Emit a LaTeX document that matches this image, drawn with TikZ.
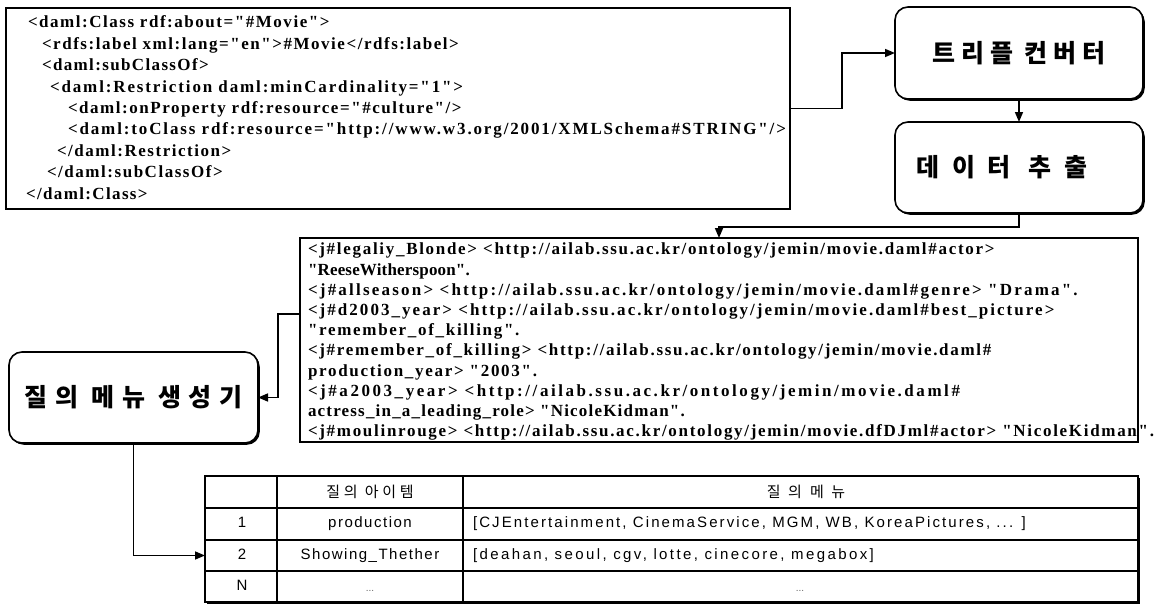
\documentclass[tikz,border=0pt]{standalone}
\usepackage{fontspec}
\setmainfont{Liberation Serif}[Ligatures=TeXOff]
\newfontfamily\krfont{Noto Sans CJK KR}
\newfontfamily\sansfont{Liberation Sans}
\usetikzlibrary{arrows.meta,shadows}
\newcommand\lsp[2]{{\addfontfeature{LetterSpace=#1}#2}}
\begin{document}
\begin{tikzpicture}[x=1pt,y=-1pt,
  every node/.style={inner sep=0pt, outer sep=0pt},
  box/.style={draw, line width=1.4pt, fill=white},
  rbox/.style={draw, line width=1.6pt, fill=white, rounded corners=13pt,
     drop shadow={shadow xshift=1.8pt, shadow yshift=-1.8pt, fill=black, opacity=1}},
  arr/.style={line width=1.6pt, -{Triangle[length=10pt,width=8pt]}},
  code/.style={anchor=north west, align=left, font=\bfseries\fontsize{17}{21.4}\selectfont},
  trip/.style={anchor=north west, align=left, font=\bfseries\fontsize{17}{20.2}\selectfont},
  kr/.style={font=\krfont\bfseries\fontsize{25}{28}\selectfont\addfontfeature{LetterSpace=24}},
  cellkr/.style={font=\krfont\fontsize{15}{18}\selectfont\addfontfeature{LetterSpace=25}, text height=12pt, text depth=2pt},
  cell/.style={font=\sansfont\fontsize{15}{18}\selectfont\addfontfeature{LetterSpace=10}, text height=10.5pt, text depth=3pt},
  dots/.style={font=\sansfont\fontsize{10}{12}\selectfont, text=black!60, text height=6pt, text depth=0pt},
  grid/.style={line width=1.2pt}
]
\useasboundingbox (0,0) rectangle (1167,605);

% ---------- DAML source box ----------
\node[box, minimum width=784pt, minimum height=201pt] (xml) at (398,108.5) {};
\node[code] (xmltxt) at (28,16) {%
\lsp{9}{<daml:Class rdf:about="\#Movie">}\\
\hspace*{14pt}\lsp{9}{<rdfs:label xml:lang="en">\#Movie</rdfs:label>}\\
\hspace*{14pt}\lsp{8}{<daml:subClassOf>}\\
\hspace*{22pt}\lsp{11}{<daml:Restriction daml:minCardinality="1">}\\
\hspace*{40pt}\lsp{9}{<daml:onProperty rdf:resource="\#culture"/>}\\
\hspace*{40pt}\lsp{11}{<daml:toClass rdf:resource="http://www.w3.org/2001/XMLSchema\#STRING"/>}\\
\hspace*{29pt}\lsp{9}{</daml:Restriction>}\\
\hspace*{19pt}\lsp{9}{</daml:subClassOf>}\\
\hspace*{-2pt}\lsp{8}{</daml:Class>}};

% ---------- rounded process boxes ----------
\node[rbox, kr, minimum width=248pt, minimum height=92pt] (conv) at (1019,53) {트리플 컨버터};
\node[rbox, kr, minimum width=248pt, minimum height=91pt] (ext) at (1019,167.5) {\addfontfeature{LetterSpace=50}데이터 추출\hspace*{34pt}};
\node[rbox, kr, minimum width=249pt, minimum height=91pt] (gen) at (133.5,397.5) {\addfontfeature{LetterSpace=30}질의 메뉴 생성기};

% ---------- triples box ----------
\node[box, minimum width=838pt, minimum height=204pt] (triples) at (719,340) {};
\node[trip] (triptxt) at (308,243) {%
\lsp{10}{<j\#legaliy\_Blonde> <http://ailab.ssu.ac.kr/ontology/jemin/movie.daml\#actor>}\\
\lsp{1}{"ReeseWitherspoon".}\\
\lsp{13}{<j\#allseason> <http://ailab.ssu.ac.kr/ontology/jemin/movie.daml\#genre> "Drama".}\\
\lsp{12}{<j\#d2003\_year> <http://ailab.ssu.ac.kr/ontology/jemin/movie.daml\#best\_picture>}\\
\lsp{10}{"remember\_of\_killing".}\\
\lsp{10}{<j\#remember\_of\_killing> <http://ailab.ssu.ac.kr/ontology/jemin/movie.daml\#}\\
\lsp{10}{production\_year> "2003".}\\
\lsp{15}{<j\#a2003\_year> <http://ailab.ssu.ac.kr/ontology/jemin/movie.daml\#}\\
\lsp{7}{actress\_in\_a\_leading\_role> "NicoleKidman".}\\
\lsp{10}{<j\#moulinrouge> <http://ailab.ssu.ac.kr/ontology/jemin/movie.dfDJml\#actor> "NicoleKidman".}};

% ---------- table ----------
\node[draw, line width=2.6pt, fill=white, minimum width=933pt, minimum height=126pt,
  drop shadow={shadow xshift=1.6pt, shadow yshift=-1.6pt, fill=black, opacity=1}] (tbl) at (671.5,539) {};
\draw[grid] (205,508) -- (1138,508);
\draw[grid] (205,540) -- (1138,540);
\draw[grid] (205,571) -- (1138,571);
\draw[grid] (277,476) -- (277,602);
\draw[grid] (463,476) -- (463,602);

\node[cellkr] (h2) at (370,492) {질의 아이템};
\node[cellkr] (h3) at (806,492) {\addfontfeature{LetterSpace=50}질의\hspace{8pt}메뉴};
\node[cell] (n1) at (242,524) {1};
\node[cell] (p1) at (370,524) {production};
\node[cell, anchor=west] (m1) at (473,524) {\addfontfeature{LetterSpace=14}[CJEntertainment, CinemaService, MGM, WB, KoreaPictures, ... ]};
\node[cell] (n2) at (242,555.5) {2};
\node[cell] (p2) at (370,555.5) {Showing\_Thether};
\node[cell, anchor=west] (m2) at (473,555.5) {\addfontfeature{LetterSpace=16}[deahan, seoul, cgv, lotte, cinecore, megabox]};
\node[cell] (n3) at (242,587) {N};
\node[dots] (p3) at (370,588) {...};
\node[dots] (m3) at (800,588) {...};

% ---------- connectors ----------
\draw[arr] (xml.east) -- ++(52,0) |- (conv.west);
\draw[arr] (conv.south) -- (ext.north);
\draw[arr] (ext.south) -- ++(0,14) -| (triples.north);
\draw[arr] ([yshift=26pt]triples.west) -- ++(-22,0) |- (gen.east);
\draw[arr] (gen.south) |- ([yshift=-16.5pt]tbl.west);
\end{tikzpicture}
\end{document}
